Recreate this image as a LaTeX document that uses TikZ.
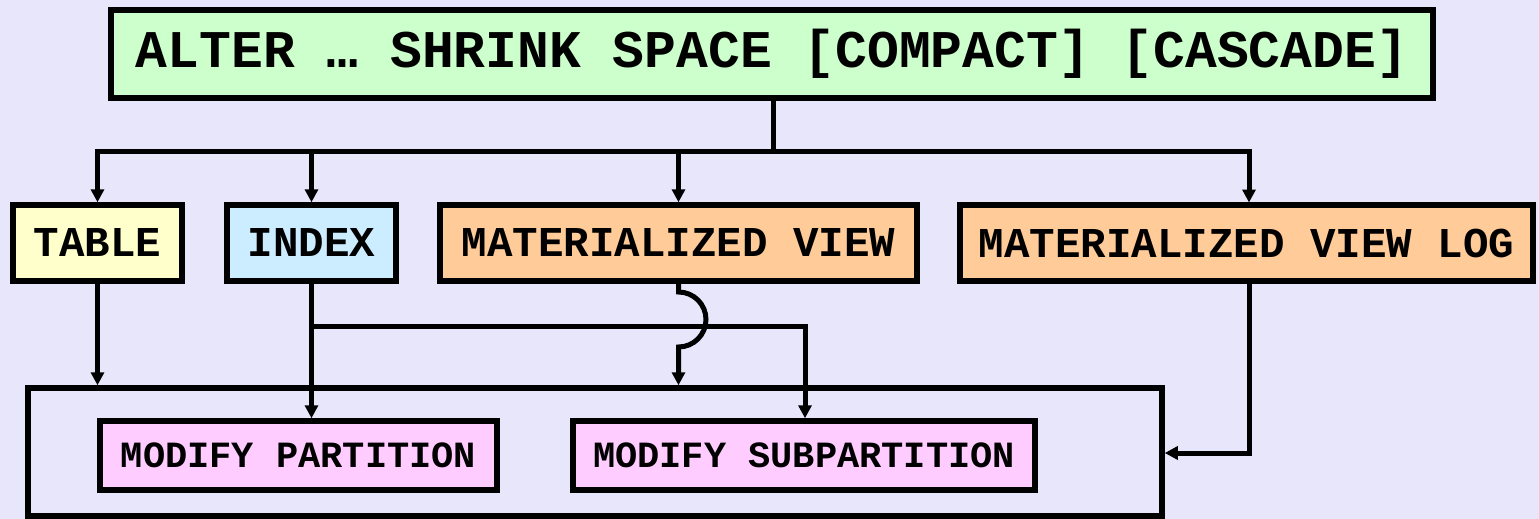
\documentclass[tikz,border=0pt]{standalone}
\usepackage{fontspec}
\setmonofont{Liberation Mono}
\usetikzlibrary{arrows.meta}
\definecolor{bg}{RGB}{232,230,250}
\definecolor{topfill}{RGB}{204,255,204}
\definecolor{tabfill}{RGB}{255,255,204}
\definecolor{idxfill}{RGB}{204,236,255}
\definecolor{mvfill}{RGB}{255,204,153}
\definecolor{pinkfill}{RGB}{255,204,255}
\begin{document}
\begin{tikzpicture}[x=1pt,y=-1pt,
  box/.style={draw=black,line width=5.5pt,rectangle,inner sep=0pt,font=\ttfamily\bfseries},
  bigtxt/.style={font=\ttfamily\bfseries\fontsize{53}{60}\selectfont},
  midtxt/.style={font=\ttfamily\bfseries\fontsize{42.5}{48}\selectfont},
  smalltxt/.style={font=\ttfamily\bfseries\fontsize{37}{42}\selectfont},
  conn/.style={line width=5pt,line join=miter},
  arr/.style={conn,-{Triangle[length=13pt,width=13pt]}},
  darr/.style={conn,{Triangle[length=13pt,width=13pt]}-{Triangle[length=13pt,width=13pt]}}]
\fill[bg] (0,0) rectangle (1539,519);
\useasboundingbox (0,0) rectangle (1539,519);
% top box
\node[box,bigtxt,fill=topfill,minimum width=1322pt,minimum height=88pt] (top) at (772,54) {ALTER … SHRINK SPACE [COMPACT] [CASCADE]};
% row
\node[box,midtxt,fill=tabfill,minimum width=169pt,minimum height=76pt] (table) at (97.5,243) {TABLE};
\node[box,midtxt,fill=idxfill,minimum width=169pt,minimum height=76pt] (index) at (311.5,243) {INDEX};
\node[box,midtxt,fill=mvfill,minimum width=477pt,minimum height=76pt] (mv) at (678.5,243) {MATERIALIZED VIEW};
\node[box,midtxt,fill=mvfill,minimum width=573pt,minimum height=76pt] (mvlog) at (1246.5,243) {MATERIALIZED VIEW LOG};
% container
\node[box,minimum width=1134pt,minimum height=128pt] (cont) at (595,452) {};
\node[box,smalltxt,fill=pinkfill,minimum width=397pt,minimum height=69pt] (p1) at (298.5,455.5) {MODIFY PARTITION};
\node[box,smalltxt,fill=pinkfill,minimum width=462pt,minimum height=69pt] (p2) at (804,455.5) {MODIFY SUBPARTITION};
% coordinates
\coordinate (bus) at (773,151.5);
\coordinate (logx) at (1249,151.5);
\coordinate (logtop) at (1249,202.5);
\coordinate (logbot) at (1249,283.5);
\coordinate (logturn) at (1249,453);
\coordinate (branch) at (311.5,326);
\coordinate (branchR) at (805,326);
\coordinate (hopA) at (678.5,292);
\coordinate (hopB) at (678.5,347);
% connectors
\draw[conn] (top.south -| bus) -- (bus);
\draw[darr] (table.north) -- (table.north |- bus) -- (logx) -- (logtop);
\draw[arr] (index.north |- bus) -- (index.north);
\draw[arr] (mv.north |- bus) -- (mv.north);
\draw[arr] (table.south) -- (table.south |- cont.north);
\draw[arr] (index.south) -- (index.south |- p1.north);
\draw[arr] (branch) -- (branchR) -- (branchR |- p2.north);
\draw[arr] (mv.south) -- (hopA) arc[start angle=90,end angle=-90,radius=27.5pt] -- (hopB |- cont.north);
\draw[arr] (logbot) -- (logturn) -- (logturn -| cont.east);
\end{tikzpicture}
\end{document}
